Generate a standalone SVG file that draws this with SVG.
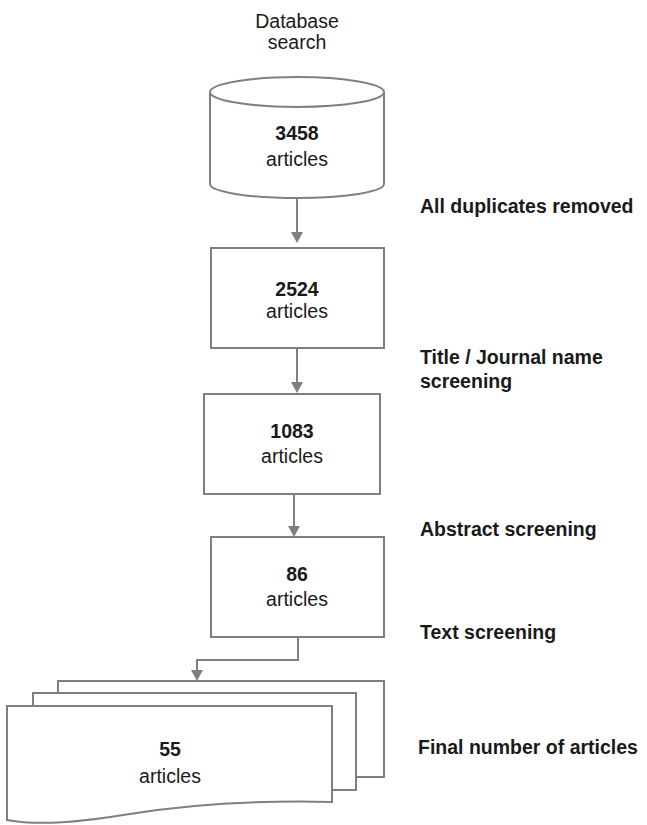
<svg xmlns="http://www.w3.org/2000/svg" width="647" height="825" viewBox="0 0 647 825">
<defs>
<style>
.s{fill:#fff;stroke:#7f7f7f;stroke-width:2}
.c{fill:none;stroke:#7f7f7f;stroke-width:2}
text{font-family:"Liberation Sans",Arial,sans-serif;font-size:19.5px;fill:#1a1a1a}
.b{font-weight:bold}
.m{text-anchor:middle}
</style>
<marker id="ah" viewBox="0 0 11 12" refX="4" refY="6" markerWidth="11" markerHeight="12" markerUnits="userSpaceOnUse" orient="auto">
<path d="M0,0 L11,6 L0,12 Z" fill="#7f7f7f"/>
</marker>
</defs>
<rect width="647" height="825" fill="#fff"/>
<text class="m" x="297" y="28">Database</text>
<text class="m" x="297" y="49">search</text>
<g id="connectors">
<path d="M297,199 V236" class="c" marker-end="url(#ah)"/>
<path d="M297,348 V386" class="c" marker-end="url(#ah)"/>
<path d="M294,494 V530" class="c" marker-end="url(#ah)"/>
<path d="M298,637 V660 H197 V674" class="c" marker-end="url(#ah)"/>
</g>
<g id="n1">
<path class="s" d="M210,92 V184 A87,14 0 0 0 384,184 V92"/>
<ellipse class="s" cx="297" cy="92" rx="87" ry="15"/>
<text class="m b" x="297" y="140">3458</text>
<text class="m" x="297" y="166">articles</text>
</g>
<g id="n2">
<rect class="s" x="211" y="248" width="173" height="100"/>
<text class="m b" x="297" y="296">2524</text>
<text class="m" x="297" y="318">articles</text>
</g>
<g id="n3">
<rect class="s" x="204" y="394" width="176" height="100"/>
<text class="m b" x="292" y="438">1083</text>
<text class="m" x="292" y="463">articles</text>
</g>
<g id="n4">
<rect class="s" x="211" y="537" width="173" height="100"/>
<text class="m b" x="297" y="581">86</text>
<text class="m" x="297" y="606">articles</text>
</g>
<g id="n5">
<path class="s" d="M58,693 V681 H384 V777 H356"/>
<path class="s" d="M33,706 V693 H356 V790 H332"/>
<path class="s" d="M7,706 H332 V802 C250,800 180,806 130,814 C80,822 40,826 7,820 Z"/>
<text class="m b" x="170" y="756">55</text>
<text class="m" x="170" y="783">articles</text>
</g>
<g id="labels">
<text class="b" x="420" y="213">All duplicates removed</text>
<text class="b" x="420" y="364">Title / Journal name</text>
<text class="b" x="420" y="388">screening</text>
<text class="b" x="420" y="536">Abstract screening</text>
<text class="b" x="420" y="639">Text screening</text>
<text class="b" x="418" y="754">Final number of articles</text>
</g>
</svg>
